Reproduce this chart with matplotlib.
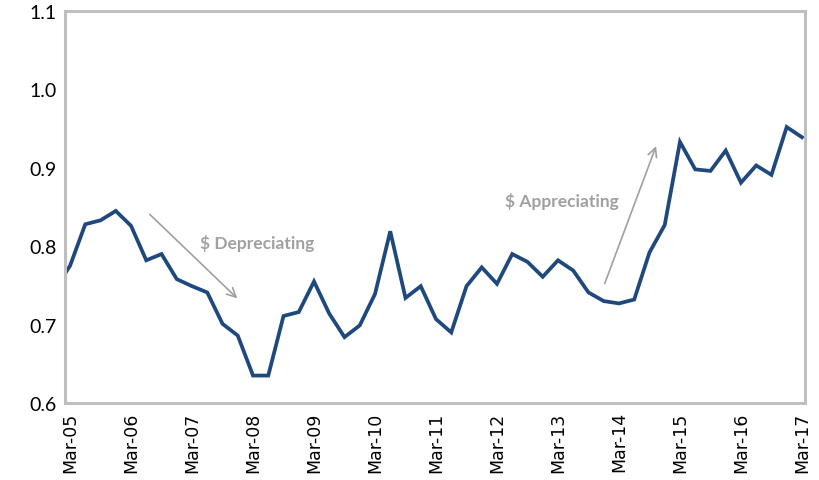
import matplotlib.pyplot as plt

# quarterly exchange rate, Dec-04 through Mar-17
rate = [0.745,
        0.775, 0.828, 0.833, 0.845, 0.826, 0.782, 0.790, 0.758,
        0.749, 0.741, 0.701, 0.686, 0.635, 0.635, 0.711, 0.716,
        0.755, 0.714, 0.684, 0.699, 0.739, 0.819, 0.734, 0.749,
        0.707, 0.690, 0.749, 0.773, 0.752, 0.790, 0.780, 0.761,
        0.782, 0.769, 0.741, 0.730, 0.727, 0.732, 0.792, 0.827,
        0.933, 0.898, 0.896, 0.922, 0.881, 0.903, 0.891, 0.952,
        0.939]
quarter = list(range(-1, len(rate) - 1))

years = ['05', '06', '07', '08', '09', '10', '11', '12', '13', '14', '15', '16', '17']
tick_labels = ['Mar-' + y for y in years]
y_ticks = [0.6, 0.7, 0.8, 0.9, 1.0, 1.1]

line_color = '#1F497D'
border_color = '#BFBFBF'
note_color = '#A0A0A0'


def pixel_to_inch(value):
    return value / 100


fig = plt.figure(figsize=(pixel_to_inch(819), pixel_to_inch(481)), dpi=100)
ax = fig.add_axes([65 / 819, 1 - 404 / 481, 740 / 819, 392 / 481])

ax.plot(quarter, rate, color=line_color, linewidth=2.7, solid_joinstyle='miter')

ax.set_xlim(-0.33, 48.2)
ax.set_ylim(0.6, 1.1)
ax.set_xticks(range(0, 49, 4))
ax.set_xticklabels(tick_labels, rotation=90, fontsize=12.5, family='DejaVu Sans')
ax.set_yticks(y_ticks)
ax.set_yticklabels(['%.1f' % v for v in y_ticks], fontsize=14, family='Lato')
ax.tick_params(length=0, pad=6)

for side in ax.spines.values():
    side.set_color(border_color)
    side.set_linewidth(2.2)

# arrows showing the direction of the dollar
ax.annotate('', xy=(11.1, 0.731), xytext=(5.1, 0.843),
            arrowprops=dict(arrowstyle='->', color=note_color, lw=1.2,
                            mutation_scale=16))
ax.text(8.5, 0.805, '$ Depreciating', ha='left', va='center',
        fontsize=12.5, fontweight='bold', color=note_color, family='Lato')
ax.annotate('', xy=(38.5, 0.931), xytext=(35.0, 0.749),
            arrowprops=dict(arrowstyle='->', color=note_color, lw=1.2,
                            mutation_scale=16))
ax.text(28.5, 0.858, '$ Appreciating', ha='left', va='center',
        fontsize=12.5, fontweight='bold', color=note_color, family='Lato')

fig.savefig('out.png', dpi=100)
